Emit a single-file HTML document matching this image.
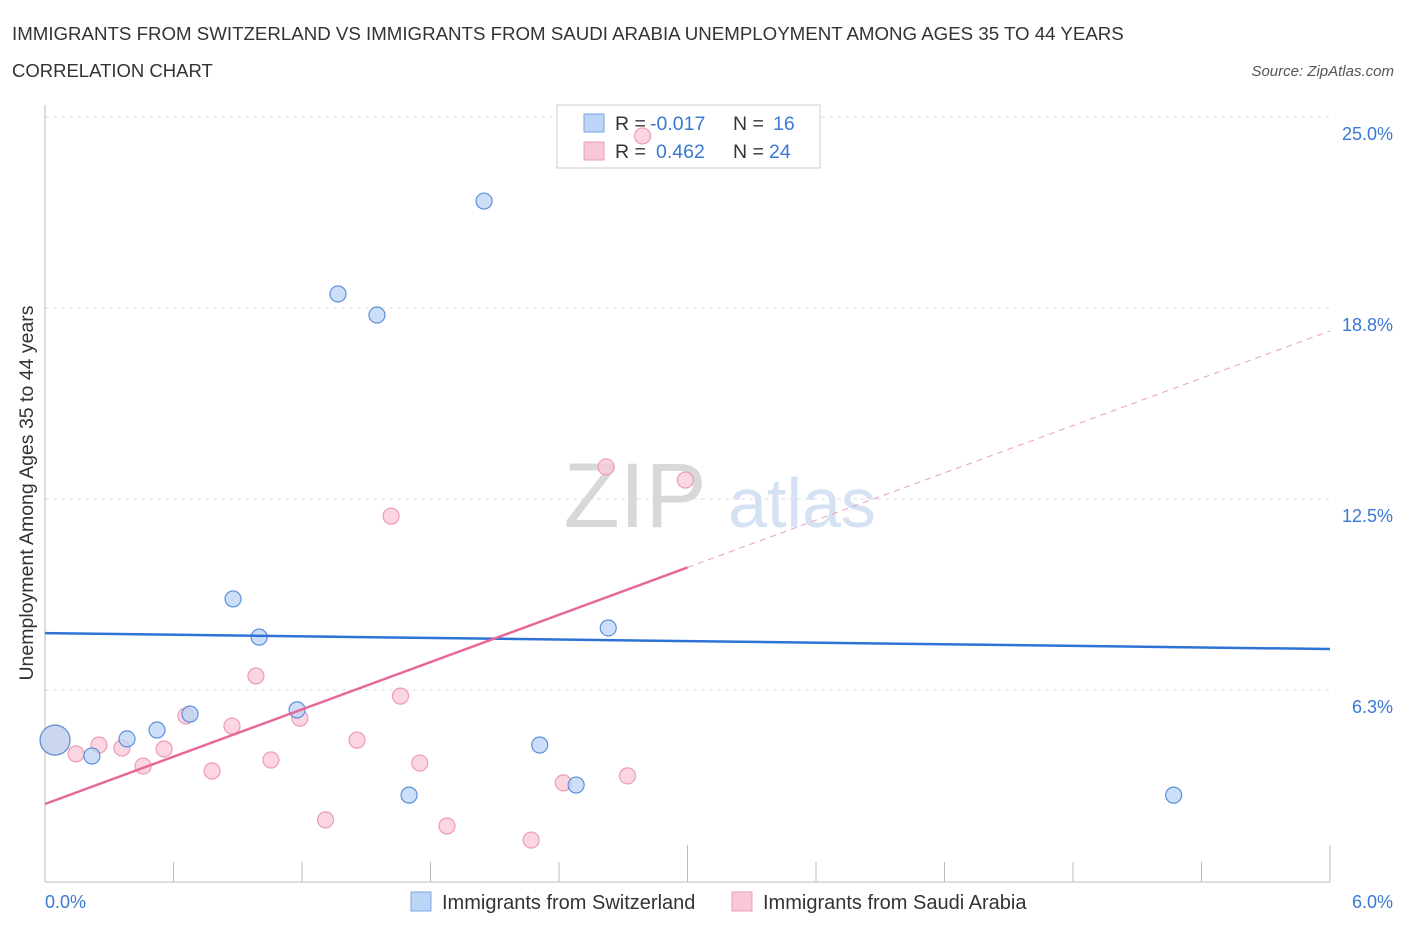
<!DOCTYPE html>
<html><head><meta charset="utf-8"><style>
body{margin:0;background:#fff;font-family:"Liberation Sans",sans-serif;}
svg text{font-family:"Liberation Sans",sans-serif;}
</style></head><body>
<svg width="1406" height="930">
<text x="12" y="40" font-size="18.7" fill="#333">IMMIGRANTS FROM SWITZERLAND VS IMMIGRANTS FROM SAUDI ARABIA UNEMPLOYMENT AMONG AGES 35 TO 44 YEARS</text>
<text x="12" y="77" font-size="18.5" fill="#333">CORRELATION CHART</text>
<text x="1394" y="76" font-size="15" fill="#555" font-style="italic" text-anchor="end">Source: ZipAtlas.com</text>
<g id="grid"></g>
<text x="635" y="527" font-size="92" fill="#d8d8d8" font-family="Liberation Serif" text-anchor="middle">ZIP</text>
<text x="802" y="527" font-size="70" fill="#d4e2f4" text-anchor="middle">atlas</text>
<g>
<rect x="557" y="105" width="263" height="63" fill="#fff" stroke="#ccc"/>
<rect x="584" y="114" width="20" height="18" fill="#bcd4f5" stroke="#7aa6e6"/>
<rect x="584" y="142" width="20" height="18" fill="#f9c8d6" stroke="#ee9bb4"/>
<text x="615" y="130" font-size="19.5" fill="#333">R =</text>
<text x="650" y="130" font-size="19.5" fill="#3a78d4">-0.017</text>
<text x="733" y="130" font-size="19.5" fill="#333">N =</text>
<text x="773" y="130" font-size="19.5" fill="#3a78d4">16</text>
<text x="615" y="158" font-size="19.5" fill="#333">R =</text>
<text x="656" y="158" font-size="19.5" fill="#3a78d4">0.462</text>
<text x="733" y="158" font-size="19.5" fill="#333">N =</text>
<text x="769" y="158" font-size="19.5" fill="#3a78d4">24</text>
</g>
<g id="marks"></g>
<text x="33" y="493" font-size="19.5" fill="#333" transform="rotate(-90 33 493)" text-anchor="middle">Unemployment Among Ages 35 to 44 years</text>
<text x="45" y="908" font-size="18" fill="#3a78d4">0.0%</text>
<text x="1393" y="908" font-size="18" fill="#3a78d4" text-anchor="end">6.0%</text>
<g>
<rect x="411" y="892" width="20" height="19" fill="#bcd4f5" stroke="#7aa6e6"/>
<text x="442" y="909" font-size="20" fill="#333">Immigrants from Switzerland</text>
<rect x="732" y="892" width="20" height="19" fill="#f9c8d6" stroke="#ee9bb4"/>
<text x="763" y="909" font-size="20" fill="#333">Immigrants from Saudi Arabia</text>
</g>
</svg>
<script>
const yTicks=[6.25,12.5,18.75,25];
const yTickLabels=["6.3%","12.5%","18.8%","25.0%"];
const blueX=[0.047,0.219,0.383,0.523,0.677,0.878,1.0,1.177,1.368,1.55,1.70,2.05,2.31,2.48,2.63,5.27];
const blueY=[4.61,4.09,4.65,4.94,5.46,9.23,7.98,5.60,19.21,18.52,2.81,22.25,4.45,3.14,8.28,2.81];
const pinkX=[0.047,0.145,0.252,0.359,0.458,0.556,0.658,0.78,0.873,0.985,1.055,1.19,1.31,1.457,1.616,1.66,1.75,1.877,2.27,2.42,2.62,2.72,2.79,2.99];
const pinkY=[4.61,4.16,4.45,4.35,3.76,4.32,5.40,3.60,5.07,6.71,3.96,5.33,2.0,4.61,11.94,6.05,3.86,1.80,1.34,3.21,13.55,3.44,24.38,13.12];
const blueTrend=[8.11,7.59];
const pinkTrend=[2.52,18.0];
const pinkSolidEnd=3.0;
const NS="http://www.w3.org/2000/svg";
const xs=v=>45+v/6*1285, ys=v=>881-v/25*764;
function mk(t,a,p){const e=document.createElementNS(NS,t);for(const k in a)e.setAttribute(k,a[k]);p.appendChild(e);return e;}
const grid=document.getElementById('grid'),marks=document.getElementById('marks');
yTicks.forEach((t,i)=>{
 const l=mk('line',{x1:45,x2:1330,y1:ys(t),y2:ys(t),stroke:'#ddd','stroke-dasharray':'4,4'},grid);
 
 
 const tx=mk('text',{x:1393,y:ys(t)+23,'font-size':18,fill:'#3a78d4','text-anchor':'end'},grid);
 tx.textContent=yTickLabels[i];
 
 
});
const ax=mk('line',{x1:45,x2:1330,y1:882,y2:882,stroke:'#bbb'},grid);


const ay=mk('line',{x1:45,x2:45,y1:105,y2:882,stroke:'#bbb'},grid);


for(let i=0;i<=10;i++){const x=45+i*128.5;const t=mk('line',{x1:x,x2:x,y1:882,y2:i%5==0?845:862,stroke:'#bbb'},grid);
 
 }
function dot(x,y,fill,stroke,r,name){const c=mk('circle',{cx:xs(x),cy:ys(y),r:r,fill:fill,stroke:stroke,'stroke-width':1.2,'fill-opacity':0.75},marks);
 
 }
pinkX.forEach((x,i)=>dot(x,pinkY[i],'#f9c8d6','#ee9bb4',i==0?15:8,'saudi-point'));
blueX.forEach((x,i)=>dot(x,blueY[i],'#bcd4f5','#5b8fd9',i==0?15:8,'swiss-point'));
const bt=mk('line',{x1:xs(0),y1:ys(blueTrend[0]),x2:xs(6),y2:ys(blueTrend[1]),stroke:'#2f72d6','stroke-width':2.5},marks);


const py=x=>pinkTrend[0]+(pinkTrend[1]-pinkTrend[0])*x/6;
const pt=mk('line',{x1:xs(0),y1:ys(py(0)),x2:xs(pinkSolidEnd),y2:ys(py(pinkSolidEnd)),stroke:'#e8679a','stroke-width':2.5},marks);


const pd=mk('line',{x1:xs(pinkSolidEnd),y1:ys(py(pinkSolidEnd)),x2:xs(6),y2:ys(py(6)),stroke:'#e8a0b8','stroke-width':1,'stroke-dasharray':'6,5'},marks);


</script>
</body></html>
